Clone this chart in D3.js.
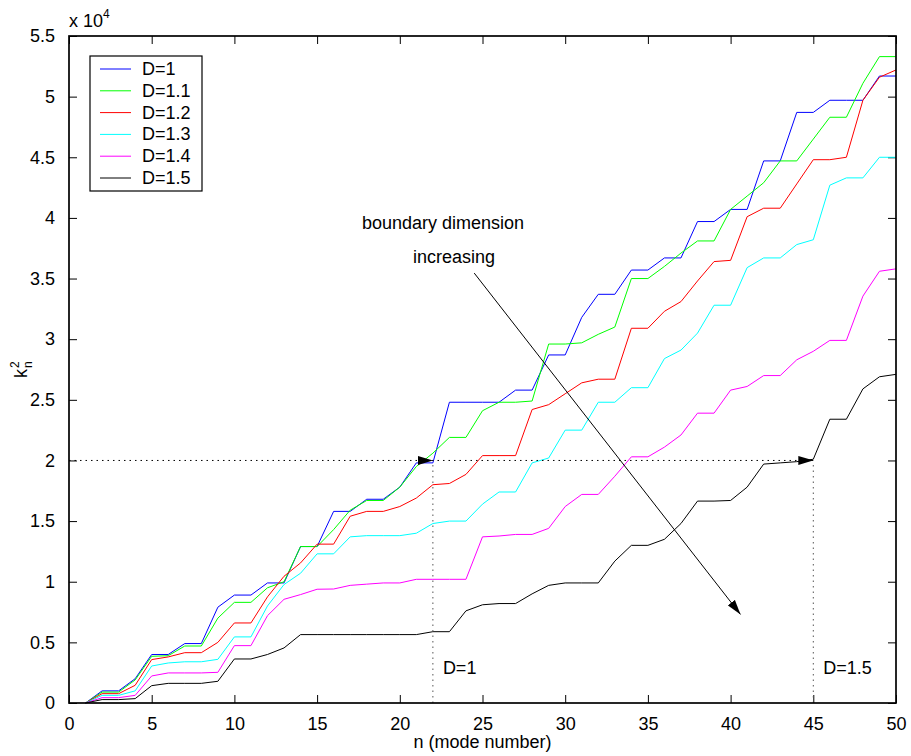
<!DOCTYPE html>
<html>
<head>
<meta charset="utf-8">
<script src="https://cdn.jsdelivr.net/npm/d3@7.9.0/dist/d3.min.js"></script>
<style>
  body { margin: 0; background: #fff; }
  svg { display: block; font-family: "Liberation Sans", Arial, Helvetica, sans-serif; }
</style>
</head>
<body>
<svg id="chart" width="911" height="756"></svg>
<script>
// mode number n = 1..50, values in units of 1e4
const modes = d3.range(1, 51);
const seriesNames = ['D=1', 'D=1.1', 'D=1.2', 'D=1.3', 'D=1.4', 'D=1.5'];
const seriesColors = ['#0000ff', '#00ff00', '#ff0000', '#00ffff', '#ff00ff', '#000000'];

const d10 = [0, 0.10, 0.10, 0.20, 0.40, 0.40, 0.49, 0.49, 0.79, 0.89,
  0.89, 0.99, 0.99, 1.29, 1.29, 1.58, 1.58, 1.68, 1.68, 1.78,
  1.98, 1.98, 2.48, 2.48, 2.48, 2.48, 2.58, 2.58, 2.87, 2.87,
  3.18, 3.37, 3.37, 3.57, 3.57, 3.67, 3.67, 3.97, 3.97, 4.07,
  4.07, 4.47, 4.47, 4.87, 4.87, 4.97, 4.97, 4.97, 5.17, 5.17];
const d11 = [0, 0.09, 0.09, 0.19, 0.385, 0.39, 0.47, 0.47, 0.70, 0.83,
  0.83, 0.95, 1.0, 1.29, 1.29, 1.43, 1.59, 1.67, 1.67, 1.78,
  1.95, 2.06, 2.19, 2.19, 2.41, 2.48, 2.48, 2.49, 2.96, 2.96,
  2.97, 3.04, 3.10, 3.50, 3.50, 3.60, 3.71, 3.81, 3.81, 4.07,
  4.18, 4.29, 4.47, 4.47, 4.65, 4.83, 4.83, 5.11, 5.33, 5.33];
const d12 = [0, 0.077, 0.077, 0.146, 0.358, 0.38, 0.415, 0.415, 0.50, 0.66,
  0.66, 0.875, 1.045, 1.155, 1.31, 1.31, 1.54, 1.58, 1.58, 1.62,
  1.69, 1.80, 1.81, 1.885, 2.04, 2.04, 2.04, 2.42, 2.46, 2.55,
  2.64, 2.67, 2.67, 3.09, 3.09, 3.23, 3.31, 3.48, 3.64, 3.65,
  4.01, 4.08, 4.08, 4.28, 4.48, 4.48, 4.50, 4.97, 5.16, 5.22];
const d13 = [0, 0.063, 0.063, 0.10, 0.305, 0.33, 0.34, 0.34, 0.36, 0.545,
  0.545, 0.80, 0.977, 1.07, 1.23, 1.23, 1.37, 1.38, 1.38, 1.38,
  1.40, 1.48, 1.50, 1.50, 1.64, 1.74, 1.74, 1.98, 2.02, 2.25,
  2.25, 2.48, 2.48, 2.60, 2.60, 2.84, 2.91, 3.05, 3.28, 3.28,
  3.59, 3.67, 3.67, 3.78, 3.82, 4.27, 4.33, 4.33, 4.50, 4.50];
const d14 = [0, 0.044, 0.044, 0.063, 0.223, 0.248, 0.248, 0.248, 0.253, 0.473,
  0.473, 0.72, 0.855, 0.894, 0.938, 0.94, 0.97, 0.98, 0.99, 0.99,
  1.02, 1.02, 1.02, 1.02, 1.37, 1.377, 1.39, 1.39, 1.44, 1.62,
  1.72, 1.72, 1.87, 2.03, 2.03, 2.11, 2.21, 2.39, 2.39, 2.58,
  2.61, 2.70, 2.70, 2.83, 2.90, 2.99, 2.99, 3.355, 3.56, 3.58];
const d15 = [0, 0.028, 0.028, 0.036, 0.143, 0.162, 0.162, 0.162, 0.179, 0.363,
  0.363, 0.40, 0.454, 0.564, 0.564, 0.564, 0.564, 0.564, 0.564, 0.564,
  0.564, 0.588, 0.588, 0.76, 0.81, 0.82, 0.82, 0.90, 0.97, 0.99,
  0.99, 0.99, 1.17, 1.30, 1.30, 1.35, 1.48, 1.665, 1.665, 1.67,
  1.78, 1.97, 1.98, 1.99, 2.01, 2.34, 2.34, 2.59, 2.69, 2.71];

const seriesValues = [d10, d11, d12, d13, d14, d15];

const xTicks = d3.range(0, 51, 5);
const yTicks = d3.range(0, 5.51, 0.5);

// annotation points (data coords)
const markLevel = 2;
const markModes = [22, 45];
const markLabels = ['D=1', 'D=1.5'];
const trendArrow = [[24.5, 3.545], [40.6, 0.73]];

const svg = d3.select('#chart');
const margin = { left: 69, top: 36, right: 896, bottom: 703 };
const fontSize = 18;

const x = d3.scaleLinear().domain([0, 50]).range([margin.left, margin.right]);
const y = d3.scaleLinear().domain([0, 5.5]).range([margin.bottom, margin.top]);

// arrowhead marker
svg.append('defs').append('marker')
  .attr('id', 'head')
  .attr('markerUnits', 'userSpaceOnUse')
  .attr('viewBox', '0 -5 15 10')
  .attr('refX', 15).attr('refY', 0)
  .attr('markerWidth', 15).attr('markerHeight', 10)
  .attr('orient', 'auto')
  .append('path')
  .attr('d', 'M0,-4.5L15,0L0,4.5Z')
  .attr('fill', '#000');

// axes, ticks inward on all four sides
const tickLen = 8;
const axisBottom = d3.axisBottom(x).tickValues(xTicks).tickSize(-tickLen).tickPadding(tickLen + 6).tickFormat(d3.format('d'));
const axisTop = d3.axisTop(x).tickValues(xTicks).tickSize(-tickLen).tickFormat('');
const axisLeft = d3.axisLeft(y).tickValues(yTicks).tickSize(-tickLen).tickPadding(tickLen + 6).tickFormat((d) => d3.format('')(+d.toFixed(1)));
const axisRight = d3.axisRight(y).tickValues(yTicks).tickSize(-tickLen).tickFormat('');

function styleAxis(g) {
  g.select('.domain').remove();
  g.selectAll('line').attr('stroke', '#000');
  g.selectAll('text').attr('fill', '#000').style('font-size', fontSize + 'px').style('font-family', 'inherit');
}

svg.append('g').attr('transform', `translate(0,${margin.bottom})`).call(axisBottom).call(styleAxis);
svg.append('g').attr('transform', `translate(0,${margin.top})`).call(axisTop).call(styleAxis);
svg.append('g').attr('transform', `translate(${margin.left},0)`).call(axisLeft).call(styleAxis);
svg.append('g').attr('transform', `translate(${margin.right},0)`).call(axisRight).call(styleAxis);

// series lines
const line = d3.line().x((d) => x(d[0])).y((d) => y(d[1]));
seriesValues.forEach((vals, i) => {
  svg.append('path')
    .datum(modes.map((n, j) => [n, vals[j]]))
    .attr('d', line)
    .attr('fill', 'none')
    .attr('stroke', seriesColors[i])
    .attr('stroke-width', 1);
});

// dotted guide lines
const dotted = '1.5,4';
svg.append('line')
  .attr('x1', x(0)).attr('y1', y(markLevel))
  .attr('x2', x(markModes[1])).attr('y2', y(markLevel))
  .attr('stroke', '#000').attr('stroke-width', 1).attr('stroke-dasharray', dotted);
markModes.forEach((m, i) => {
  svg.append('line')
    .attr('x1', x(m)).attr('y1', y(0))
    .attr('x2', x(m)).attr('y2', y(markLevel))
    .attr('stroke', '#555').attr('stroke-width', 1).attr('stroke-dasharray', dotted);
  // arrowhead pointing right at (m, level)
  svg.append('line')
    .attr('x1', x(m) - 16).attr('y1', y(markLevel))
    .attr('x2', x(m)).attr('y2', y(markLevel))
    .attr('stroke', 'none')
    .attr('marker-end', 'url(#head)');
  svg.append('text')
    .attr('x', x(m) + 10).attr('y', 674)
    .style('font-size', fontSize + 'px')
    .text(markLabels[i]);
});

// trend arrow and text
svg.append('line')
  .attr('x1', x(trendArrow[0][0])).attr('y1', y(trendArrow[0][1]))
  .attr('x2', x(trendArrow[1][0])).attr('y2', y(trendArrow[1][1]))
  .attr('stroke', '#000').attr('stroke-width', 1)
  .attr('marker-end', 'url(#head)');
svg.append('text').attr('x', 362).attr('y', 229).style('font-size', fontSize + 'px').text('boundary dimension');
svg.append('text').attr('x', 413).attr('y', 263).style('font-size', fontSize + 'px').text('increasing');

// frame
svg.append('rect')
  .attr('x', margin.left).attr('y', margin.top)
  .attr('width', margin.right - margin.left).attr('height', margin.bottom - margin.top)
  .attr('fill', 'none').attr('stroke', '#000').attr('stroke-width', 1.7);

// legend
const legend = svg.append('g').attr('transform', 'translate(90,56)');
legend.append('rect').attr('width', 112).attr('height', 135)
  .attr('fill', '#fff').attr('stroke', '#000').attr('stroke-width', 1.2);
seriesNames.forEach((name, i) => {
  const yy = 13 + i * 21.8;
  legend.append('line').attr('x1', 10).attr('x2', 41).attr('y1', yy).attr('y2', yy)
    .attr('stroke', seriesColors[i]).attr('stroke-width', 1);
  legend.append('text').attr('x', 52).attr('y', yy + 6).style('font-size', fontSize + 'px').text(name);
});

// axis labels
svg.append('text')
  .attr('x', (margin.left + margin.right) / 2).attr('y', 748)
  .attr('text-anchor', 'middle').style('font-size', fontSize + 'px')
  .text('n (mode number)');

const yLab = svg.append('g').attr('transform', 'translate(27,378) rotate(-90)');
yLab.append('text').attr('x', 0).attr('y', 0).style('font-size', fontSize + 'px').text('k');
yLab.append('text').attr('x', 10).attr('y', -8).style('font-size', '12px').text('2');
yLab.append('text').attr('x', 10).attr('y', 5).style('font-size', '12px').text('n');

const expLab = svg.append('text').attr('x', 69).attr('y', 27).style('font-size', fontSize + 'px');
expLab.append('tspan').text('x 10');
expLab.append('tspan').attr('dy', -9).style('font-size', '12px').text('4');
</script>
</body>
</html>
